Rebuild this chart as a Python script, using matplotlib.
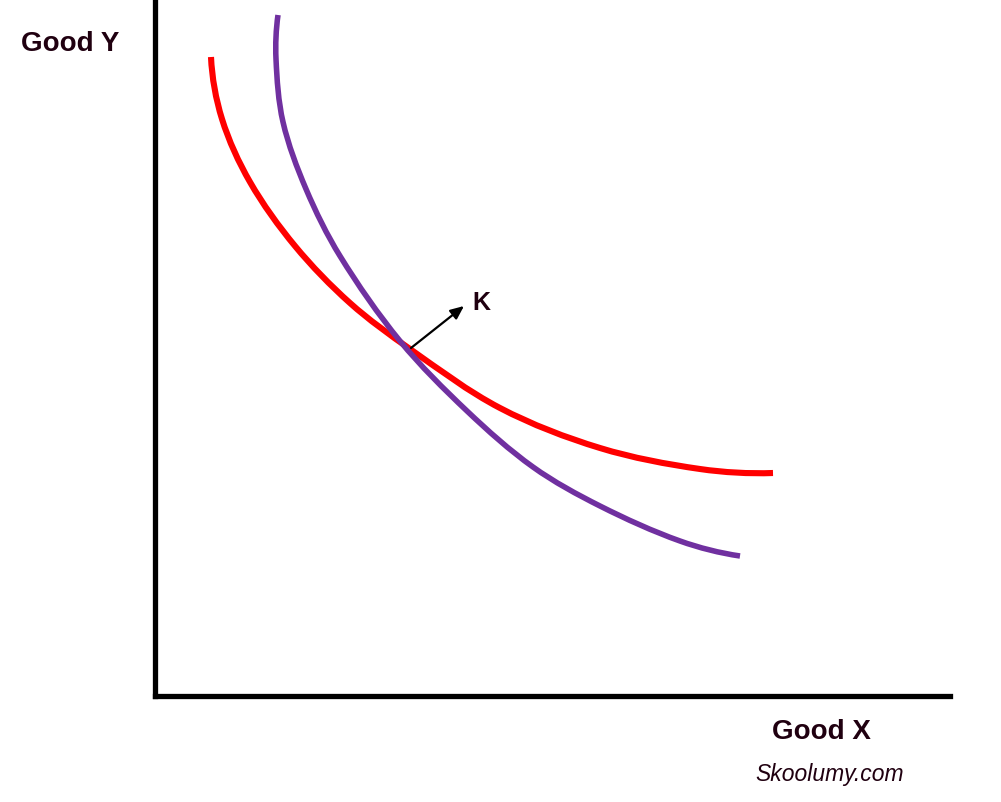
import matplotlib
matplotlib.use("Agg")
import matplotlib.pyplot as plt
import numpy as np
from matplotlib.path import Path
from matplotlib.patches import PathPatch

# Curve samples (x = Good X, y = Good Y, screen units)
red_x = [211, 222, 250, 295, 350, 410, 500, 600, 700, 773]
red_y = [58, 120, 183, 247, 304, 350, 409, 449, 470, 474]
purple_x = [278, 276, 283, 306, 340, 400, 467, 533, 600, 680, 740]
purple_y = [16, 60, 123, 190, 257, 342, 412, 468, 507, 542, 557]

point_k = (411, 349)
label_k = "K"
x_label = "Good X"
y_label = "Good Y"
credit = "Skoolumy.com"


def smooth_path(xs, ys):
    """Smooth curve through the sample points as cubic Bezier segments (chord-scaled tangents)."""
    P = np.column_stack([xs, ys]).astype(float)
    n = len(P)
    unit = lambda v: v / np.linalg.norm(v)
    T = np.zeros_like(P)
    for i in range(1, n - 1):
        T[i] = unit(P[i + 1] - P[i - 1])
    c0 = unit(P[1] - P[0])
    T[0] = unit(2 * np.dot(c0, T[1]) * c0 - T[1])
    c1 = unit(P[-1] - P[-2])
    T[-1] = unit(2 * np.dot(c1, T[-2]) * c1 - T[-2])
    verts = [tuple(P[0])]
    codes = [Path.MOVETO]
    for i in range(n - 1):
        d = np.linalg.norm(P[i + 1] - P[i])
        verts += [tuple(P[i] + T[i] * d / 3), tuple(P[i + 1] - T[i + 1] * d / 3), tuple(P[i + 1])]
        codes += [Path.CURVE4] * 3
    return Path(verts, codes)


W, H = 1001, 803
fig = plt.figure(figsize=(W / 100, H / 100), dpi=100)
fig.patch.set_facecolor("white")

x0, x1, y0, y1 = 155, 950, 0, 697
ax = fig.add_axes([x0 / W, (H - y1) / H, (x1 - x0) / W, (y1 - y0) / H])
ax.set_xlim(x0, x1)
ax.set_ylim(y1, y0)
for s in ["top", "right"]:
    ax.spines[s].set_visible(False)
for s in ["left", "bottom"]:
    ax.spines[s].set_linewidth(3.8)
    ax.spines[s].set_color("black")
ax.set_xticks([])
ax.set_yticks([])
ax.patch.set_alpha(0)

ax.add_patch(PathPatch(smooth_path(red_x, red_y), facecolor="none", edgecolor="#ff0000",
                       lw=4.4, capstyle="butt", joinstyle="round"))
ax.add_patch(PathPatch(smooth_path(purple_x, purple_y), facecolor="none", edgecolor="#7030a0",
                       lw=4.0, capstyle="butt", joinstyle="round"))

ax.annotate("", xy=(464, 307), xytext=point_k,
            arrowprops=dict(arrowstyle="-|>,head_length=0.8,head_width=0.35", color="black", lw=1.6,
                            shrinkA=0, shrinkB=0))
ax.text(481, 303, label_k, fontsize=18, fontweight="bold", family="Liberation Sans",
        color="#200010", ha="center", va="center")

txtc = "#200010"
fig.text(70 / W, 1 - 44 / H, y_label, fontsize=20, fontweight="bold", family="Liberation Sans",
         color=txtc, ha="center", va="center")
fig.text(821 / W, 1 - 732 / H, x_label, fontsize=20, fontweight="bold", family="Liberation Sans",
         color=txtc, ha="center", va="center")
fig.text(830 / W, 1 - 775 / H, credit, fontsize=16.5, style="italic", family="Liberation Sans",
         color=txtc, ha="center", va="center")

fig.savefig("out.png", dpi=100, facecolor="white")
